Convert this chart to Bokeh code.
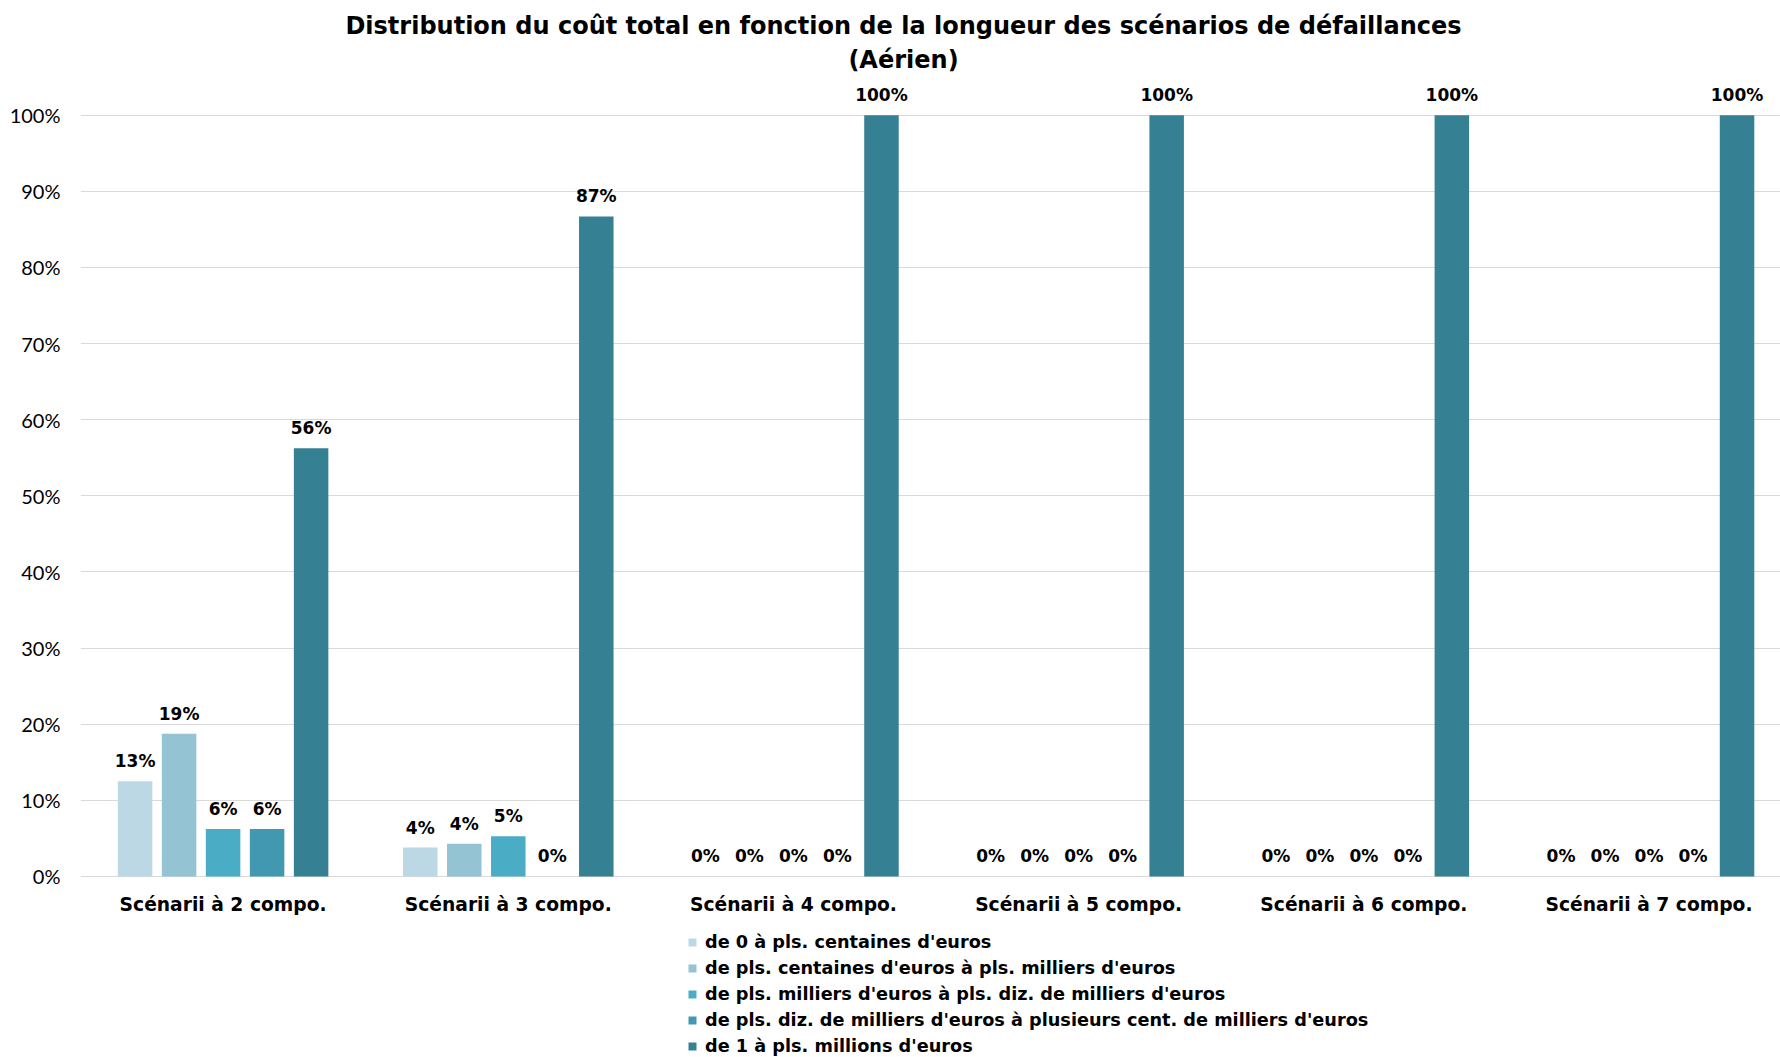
import numpy as np
from bokeh.plotting import figure
from bokeh.models import (ColumnDataSource, LabelSet, Label, Legend, LegendItem,
                          FixedTicker, Range1d, NumeralTickFormatter)
from bokeh.core.properties import value
from bokeh.embed import file_html
from bokeh.resources import INLINE

# ---------------- data ----------------
categories = ["Scénarii à 2 compo.", "Scénarii à 3 compo.", "Scénarii à 4 compo.",
              "Scénarii à 5 compo.", "Scénarii à 6 compo.", "Scénarii à 7 compo."]
series_names = [
    "de 0 à pls. centaines d'euros",
    "de pls. centaines d'euros à pls. milliers d'euros",
    "de pls. milliers d'euros à pls. diz. de milliers d'euros",
    "de pls. diz. de milliers d'euros à plusieurs cent. de milliers d'euros",
    "de 1 à pls. millions d'euros",
]
s0 = [0.125, 0.038, 0.0, 0.0, 0.0, 0.0]
s1 = [0.1875, 0.043, 0.0, 0.0, 0.0, 0.0]
s2 = [0.0625, 0.053, 0.0, 0.0, 0.0, 0.0]
s3 = [0.0625, 0.0, 0.0, 0.0, 0.0, 0.0]
s4 = [0.5625, 0.867, 1.0, 1.0, 1.0, 1.0]
series_values = [s0, s1, s2, s3, s4]
y_ticks = [0.0, 0.1, 0.2, 0.3, 0.4, 0.5, 0.6, 0.7, 0.8, 0.9, 1.0]
colors = ["#BBD8E4", "#94C3D4", "#4BACC6", "#4198B0", "#368094"]

title1 = "Distribution du coût total en fonction de la longueur des scénarios de défaillances"
title2 = "(Aérien)"

BOLD = "DejaVu Sans"
LIGHT = "Lato"

# ---------------- figure ----------------
p = figure(width=1780, height=1057, output_backend="svg", toolbar_location=None,
           x_range=Range1d(0, 5.961), y_range=Range1d(-0.2378, 1.1507),
           min_border_left=80, min_border_right=0, min_border_top=0, min_border_bottom=0)
p.outline_line_color = None
p.background_fill_color = "white"
p.border_fill_color = "white"

centers = np.arange(len(categories)) + 0.5
pitch = 0.1543
bar_w = 0.121

legend_items = []
xs_all, ys_all, lab_all = [], [], []
for j, (vals, name, col) in enumerate(zip(series_values, series_names, colors)):
    xs = centers + (j - 2) * pitch
    src = ColumnDataSource(dict(x=xs, top=vals))
    r = p.vbar(x="x", top="top", width=bar_w, bottom=0, source=src,
               fill_color=col, line_color=None)
    legend_items.append(LegendItem(label=name, renderers=[r]))
    xs_all += list(xs)
    ys_all += list(vals)
    lab_all += [f"{int(v * 100 + 0.5)}%" for v in vals]

# data labels
lsrc = ColumnDataSource(dict(x=xs_all, y=ys_all, t=lab_all))
p.add_layout(LabelSet(x="x", y="y", text="t", source=lsrc, text_align="center",
                      text_baseline="middle", y_offset=20, text_font=value(BOLD),
                      text_font_style="bold", text_font_size="17px", text_color="#000000"))

# category labels (x axis)
p.xaxis.visible = False
csrc = ColumnDataSource(dict(x=centers, y=[0.0] * len(categories), t=categories))
p.add_layout(LabelSet(x="x", y="y", text="t", source=csrc, text_align="center",
                      text_baseline="middle", y_offset=-28, text_font=value(BOLD),
                      text_font_style="bold", text_font_size="18.7px", text_color="#000000"))

# y axis
p.yaxis.ticker = FixedTicker(ticks=y_ticks)
p.yaxis.formatter = NumeralTickFormatter(format="0%")
p.yaxis.axis_line_color = None
p.yaxis.major_tick_line_color = None
p.yaxis.minor_tick_line_color = None
p.yaxis.major_tick_out = 0
p.yaxis.major_tick_in = 0
p.yaxis.major_label_standoff = 20
p.yaxis.major_label_text_font = LIGHT
p.yaxis.major_label_text_font_size = "20px"
p.yaxis.major_label_text_color = "#000000"

p.xgrid.grid_line_color = None
p.ygrid.ticker = FixedTicker(ticks=y_ticks)
p.ygrid.grid_line_color = "#D9D9D9"
p.ygrid.grid_line_width = 1

# titles (screen units relative to frame bottom-left)
p.add_layout(Label(x=823, y=1032, x_units="screen", y_units="screen", text=title1,
                   text_align="center", text_baseline="middle", text_font=BOLD,
                   text_font_style="bold", text_font_size="24px", text_color="#000000"))
p.add_layout(Label(x=823, y=998, x_units="screen", y_units="screen", text=title2,
                   text_align="center", text_baseline="middle", text_font=BOLD,
                   text_font_style="bold", text_font_size="24px", text_color="#000000"))

legend = Legend(items=legend_items, location=(607, 1), orientation="vertical",
                glyph_width=10, glyph_height=10, label_height=20, spacing=6,
                label_standoff=8, padding=0, margin=0, border_line_color=None,
                background_fill_alpha=0, label_text_font=BOLD,
                label_text_font_style="bold", label_text_font_size="17.7px",
                label_text_color="#000000")
p.add_layout(legend)

open("out.html", "w").write(file_html(p, INLINE))
